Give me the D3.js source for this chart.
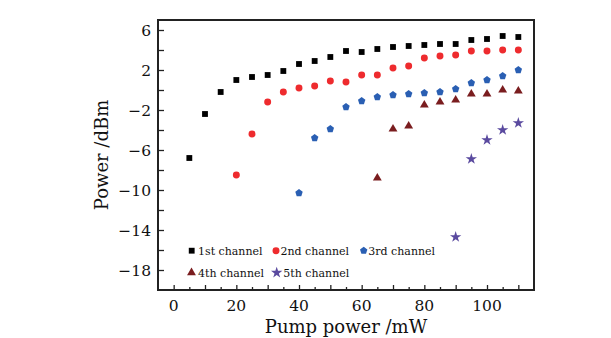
<!DOCTYPE html>
<html>
<head>
<meta charset="utf-8">
<script src="https://cdn.jsdelivr.net/npm/d3@7"></script>
<style>
  html, body { margin: 0; padding: 0; background: #fff; }
  svg { display: block; }
</style>
</head>
<body>
<div id="chart"></div>
<script>
// Pump power (mW) for every measurement point
const pumpPower = [5, 10, 15, 20, 25, 30, 35, 40, 45, 50, 55, 60, 65, 70, 75, 80, 85, 90, 95, 100, 105, 110];

// Output power per channel (dBm), null = channel not lasing yet
const ch1 = [-6.8, -2.4, -0.2, 1.0, 1.3, 1.5, 1.9, 2.6, 2.9, 3.3, 3.9, 3.8, 4.1, 4.3, 4.4, 4.5, 4.6, 4.6, 5.0, 5.1, 5.4, 5.3];
const ch2 = [null, null, null, -8.5, -4.4, -1.2, -0.2, 0.2, 0.4, 0.9, 0.8, 1.5, 1.5, 2.2, 2.4, 3.2, 3.4, 3.5, 3.9, 3.9, 4.0, 4.0];
const ch3 = [null, null, null, null, null, null, null, -10.3, -4.8, -3.9, -1.7, -1.1, -0.7, -0.5, -0.4, -0.3, -0.2, 0.1, 0.7, 1.0, 1.4, 2.0];
const ch4 = [null, null, null, null, null, null, null, null, null, null, null, null, -8.8, -3.9, -3.6, -1.5, -1.2, -1.0, -0.4, -0.4, 0.0, -0.1];
const ch5 = [null, null, null, null, null, null, null, null, null, null, null, null, null, null, null, null, null, -14.7, -6.9, -5.0, -4.0, -3.3];

const channelNames = ["1st channel", "2nd channel", "3rd channel", "4th channel", "5th channel"];
const xTickLabels = [0, 20, 40, 60, 80, 100];
const yTickLabels = [6, 2, -2, -6, -10, -14, -18];

const width = 611, height = 338;
const margin = { top: 20, right: 77, bottom: 48, left: 158 };
const fontFamily = "'DejaVu Serif', 'Liberation Serif', serif";

// pentagon symbol (not in d3 by default)
const symbolPentagon = {
  draw(context, size) {
    const r = Math.sqrt(size / 2.378);
    for (let i = 0; i < 5; i++) {
      const a = -Math.PI / 2 + i * 2 * Math.PI / 5;
      const px = r * Math.cos(a), py = r * Math.sin(a);
      if (i === 0) context.moveTo(px, py); else context.lineTo(px, py);
    }
    context.closePath();
  }
};

const series = [
  { name: channelNames[0], values: ch1, color: "#000000", type: d3.symbolSquare, size: 34 },
  { name: channelNames[1], values: ch2, color: "#ee2b2e", type: d3.symbolCircle, size: 38 },
  { name: channelNames[2], values: ch3, color: "#2a5fb3", type: symbolPentagon, size: 36 },
  { name: channelNames[3], values: ch4, color: "#7a1d1f", type: d3.symbolTriangle, size: 34 },
  { name: channelNames[4], values: ch5, color: "#5a4a9f", type: d3.symbolStar, size: 40 }
];

const svg = d3.select("#chart")
  .append("svg")
  .attr("width", width)
  .attr("height", height)
  .attr("viewBox", [0, 0, width, height]);

const x = d3.scaleLinear().domain([-5, 115]).range([margin.left, width - margin.right]);
const y = d3.scaleLinear().domain([-20, 7]).range([height - margin.bottom, margin.top]);

const plotL = margin.left, plotR = width - margin.right;
const plotT = margin.top, plotB = height - margin.bottom;

// x axis: inward ticks every 5, labels every 20
const xAxis = svg.append("g").attr("transform", `translate(0,${plotB})`);
xAxis.call(d3.axisBottom(x).tickValues(d3.range(0, 111, 5)).tickSizeInner(0).tickSizeOuter(0).tickFormat(""));
xAxis.selectAll(".tick line")
  .attr("y2", (d) => (d % 10 === 0 ? -5 : -3))
  .attr("stroke", "#222")
  .attr("stroke-width", 1.3);
xAxis.select(".domain").remove();

svg.append("g")
  .selectAll("text")
  .data(xTickLabels)
  .join("text")
  .attr("x", (d) => x(d))
  .attr("y", plotB + 21)
  .attr("text-anchor", "middle")
  .style("font-family", fontFamily)
  .style("font-size", "15.5px")
  .attr("fill", "#111")
  .text((d) => d);

// y axis: inward ticks every 2, labels every 4
const yAxis = svg.append("g").attr("transform", `translate(${plotL},0)`);
yAxis.call(d3.axisLeft(y).tickValues(d3.range(-18, 7, 2)).tickSizeInner(0).tickSizeOuter(0).tickFormat(""));
yAxis.selectAll(".tick line")
  .attr("x2", 6)
  .attr("stroke", "#222")
  .attr("stroke-width", 1.3);
yAxis.select(".domain").remove();

svg.append("g")
  .selectAll("text")
  .data(yTickLabels)
  .join("text")
  .attr("x", plotL - 7)
  .attr("y", (d) => y(d))
  .attr("dy", "0.36em")
  .attr("text-anchor", "end")
  .style("font-family", fontFamily)
  .style("font-size", "15.5px")
  .attr("fill", "#111")
  .text((d) => (d < 0 ? "\u2212" + Math.abs(d) : d));

// frame
svg.append("rect")
  .attr("x", plotL)
  .attr("y", plotT)
  .attr("width", plotR - plotL)
  .attr("height", plotB - plotT)
  .attr("fill", "none")
  .attr("stroke", "#222")
  .attr("stroke-width", 2);

// axis titles
svg.append("text")
  .attr("x", (plotL + plotR) / 2)
  .attr("y", height - 5)
  .attr("text-anchor", "middle")
  .style("font-family", fontFamily)
  .style("font-size", "18px")
  .attr("fill", "#111")
  .text("Pump power /mW");

svg.append("text")
  .attr("transform", `translate(${108},${(plotT + plotB) / 2}) rotate(-90)`)
  .attr("text-anchor", "middle")
  .style("font-family", fontFamily)
  .style("font-size", "18px")
  .attr("fill", "#111")
  .text("Power /dBm");

// points
series.forEach((s) => {
  const pts = pumpPower.map((p, i) => ({ p, v: s.values[i] })).filter((d) => d.v !== null);
  svg.append("g")
    .selectAll("path")
    .data(pts)
    .join("path")
    .attr("transform", (d) => `translate(${x(d.p)},${y(d.v)})`)
    .attr("d", d3.symbol().type(s.type).size(s.size))
    .attr("fill", s.color);
});

// legend
const legendPos = [
  { mx: 191.7, tx: 198, y: 250.7 },
  { mx: 276, tx: 280.5, y: 250.7 },
  { mx: 363.7, tx: 368.3, y: 250.7 },
  { mx: 191.5, tx: 198, y: 272.7 },
  { mx: 276.7, tx: 283.3, y: 272.7 }
];
const legend = svg.append("g");
series.forEach((s, i) => {
  const lp = legendPos[i];
  legend.append("path")
    .attr("transform", `translate(${lp.mx},${lp.y})`)
    .attr("d", d3.symbol().type(s.type).size(s.size))
    .attr("fill", s.color);
  legend.append("text")
    .attr("x", lp.tx)
    .attr("y", lp.y)
    .attr("dy", "0.36em")
    .style("font-family", fontFamily)
    .style("font-size", "11px")
    .attr("fill", "#111")
    .text(s.name);
});
</script>
</body>
</html>
